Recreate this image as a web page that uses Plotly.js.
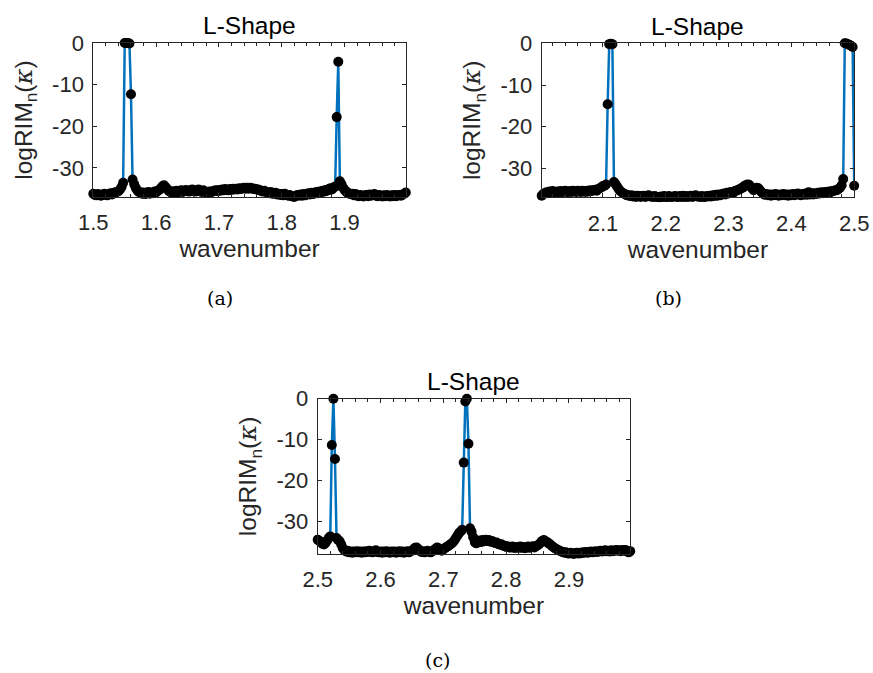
<!DOCTYPE html>
<html><head><meta charset="utf-8">
<script src="https://cdn.plot.ly/plotly-3.0.1.min.js"></script>
<style>html,body{margin:0;padding:0;background:#fff;} #chart{width:873px;height:673px;}</style>
</head><body><div id="chart"></div>
<script>
// wavenumber sampling grid of each panel
const stepK = 0.0025;
const startA = 1.5, startB = 2.0025, startC = 2.5;
const countA = 200, countB = 200, countC = 200;

// logRIM_n(kappa) values
const valuesA = [
-36.2,-36.5,-36.6,-36.3,-36.6,-36.7,-36.4,-36.2,-36.5,-36.6,
-36.3,-36.1,-36.4,-36.0,-35.9,-35.8,-35.6,-35.2,-34.6,-33.6,
0,0,0,-0.1,-12.3,-32.8,-33.9,-34.8,-35.4,-35.8,
-35.9,-36.2,-35.9,-36.3,-36.0,-35.8,-36.2,-35.9,-36.1,-35.7,
-35.9,-35.5,-35.3,-34.9,-34.4,-34.2,-34.6,-35.1,-35.5,-35.8,
-35.6,-36.0,-35.7,-35.5,-35.9,-35.6,-35.4,-35.8,-35.5,-35.3,
-35.6,-35.7,-35.3,-35.2,-35.6,-35.7,-35.3,-35.2,-35.6,-35.8,
-35.4,-35.7,-35.9,-36.0,-35.7,-35.9,-35.6,-35.5,-35.4,-35.6,
-35.3,-35.5,-35.2,-35.4,-35.1,-35.3,-35.4,-35.1,-35.3,-35.0,
-35.2,-35.0,-35.2,-34.9,-35.1,-34.9,-34.8,-35.0,-34.8,-35.0,
-34.8,-34.9,-35.1,-35.0,-35.2,-35.2,-35.4,-35.5,-35.7,-35.5,
-35.8,-35.9,-36.1,-35.8,-36.2,-36.2,-36.0,-36.4,-36.2,-36.5,
-36.3,-36.6,-36.2,-36.5,-36.7,-36.5,-36.8,-36.9,-37.0,-36.7,
-36.5,-36.7,-36.4,-36.7,-36.3,-36.6,-36.3,-36.1,-36.4,-36.0,
-36.3,-36.0,-35.8,-36.1,-35.7,-35.9,-35.5,-35.7,-35.3,-35.5,
-35.1,-34.9,-35.2,-34.7,-34.5,-17.8,-4.5,-33.2,-33.9,-34.7,
-35.3,-35.7,-35.9,-36.2,-36.3,-36.2,-36.6,-36.3,-36.7,-36.8,
-36.5,-36.7,-36.9,-36.6,-36.5,-36.8,-36.4,-36.7,-36.5,-36.3,
-36.7,-36.8,-36.5,-36.7,-36.9,-36.6,-36.8,-36.5,-36.7,-36.9,
-36.6,-36.8,-36.5,-36.8,-36.6,-36.5,-36.7,-36.4,-36.2,-35.9
];
const valuesB = [
-36.6,-36.2,-36.0,-35.8,-36.0,-35.6,-35.8,-35.5,-35.7,-35.9,
-35.6,-35.8,-35.5,-35.8,-35.6,-35.4,-35.7,-35.8,-35.5,-35.7,
-35.4,-35.6,-35.7,-35.4,-35.6,-35.7,-35.4,-35.6,-35.7,-35.4,
-35.6,-35.3,-35.5,-35.3,-35.2,-35.4,-35.0,-34.8,-34.6,-34.3,
-34.2,-33.9,-14.6,-0.1,0,-0.1,-33.3,-33.8,-34.4,-35.0,
-35.5,-35.8,-36.1,-36.2,-36.5,-36.5,-36.7,-36.5,-36.8,-36.6,
-36.9,-36.6,-36.7,-36.9,-36.7,-36.6,-36.9,-36.7,-36.5,-36.8,
-36.8,-36.9,-36.7,-36.9,-36.9,-37.0,-36.8,-36.9,-36.7,-36.9,
-36.9,-36.7,-36.9,-36.9,-36.8,-36.7,-36.9,-36.9,-36.7,-36.9,
-36.6,-36.9,-36.7,-36.9,-36.8,-36.6,-36.9,-36.7,-36.5,-36.8,
-36.8,-36.9,-36.7,-36.9,-36.9,-36.7,-36.8,-36.6,-36.8,-36.5,
-36.7,-36.4,-36.6,-36.3,-36.5,-36.2,-36.1,-36.3,-35.9,-36.1,
-35.8,-35.7,-35.9,-35.5,-35.4,-35.2,-35.1,-34.8,-34.7,-34.3,
-34.1,-33.9,-34.0,-34.4,-34.9,-35.3,-35.0,-34.7,-34.8,-35.3,
-35.8,-36.1,-36.4,-36.2,-36.5,-36.3,-36.6,-36.3,-36.5,-36.2,
-36.5,-36.6,-36.3,-36.5,-36.2,-36.5,-36.3,-36.6,-36.3,-36.5,
-36.2,-36.5,-36.3,-36.1,-36.4,-36.5,-36.2,-36.4,-36.1,-36.4,
-35.8,-36.3,-36.0,-36.3,-36.0,-36.2,-35.9,-36.1,-35.8,-36.0,
-35.8,-35.7,-35.9,-35.6,-35.8,-35.5,-35.5,-35.3,-35.3,-35.0,
-34.7,-34.1,-32.6,0.1,0.05,-0.1,-0.3,-0.5,-0.8,-34.2
];
const valuesC = [
-34.4,-34.7,-35.0,-35.4,-35.6,-35.2,-34.6,-34.0,-33.6,-11.3,
0,-14.7,-34.0,-34.5,-34.8,-35.6,-36.5,-37.0,-37.3,-37.1,
-37.5,-37.3,-37.6,-37.3,-37.5,-37.2,-37.5,-37.3,-37.6,-37.3,
-37.5,-37.2,-37.4,-37.1,-37.4,-37.5,-37.2,-37.0,-37.4,-37.5,
-37.3,-37.6,-37.3,-37.5,-37.2,-37.5,-37.6,-37.3,-37.5,-37.3,
-37.6,-37.4,-37.2,-37.5,-37.3,-37.6,-37.4,-37.2,-37.5,-37.3,
-37.1,-36.8,-36.4,-36.3,-36.7,-37.1,-37.4,-37.2,-37.5,-37.3,
-37.1,-37.4,-37.5,-37.2,-37.0,-36.6,-36.3,-36.5,-36.9,-37.1,
-36.8,-36.5,-36.2,-36.0,-35.7,-35.4,-35.1,-34.6,-34.0,-33.4,
-32.8,-32.4,-32.0,-15.6,-0.7,0,-11.0,-31.6,-32.5,-33.8,
-35.0,-35.3,-34.8,-34.6,-35.0,-34.5,-34.8,-34.4,-34.7,-34.5,
-34.9,-34.7,-35.1,-35.2,-35.1,-35.5,-35.6,-35.5,-35.9,-35.9,
-36.2,-36.0,-36.3,-36.3,-36.1,-36.4,-36.4,-36.2,-36.4,-36.1,
-36.4,-36.2,-36.5,-36.3,-36.1,-36.4,-36.2,-36.0,-36.3,-36.0,
-35.8,-35.5,-35.1,-34.7,-34.5,-34.8,-35.0,-35.3,-35.5,-35.9,
-36.2,-36.5,-36.7,-36.9,-37.1,-37.3,-37.4,-37.6,-37.5,-37.7,
-37.8,-37.6,-37.7,-37.9,-37.7,-37.6,-37.8,-37.6,-37.7,-37.5,
-37.6,-37.4,-37.6,-37.5,-37.3,-37.5,-37.4,-37.2,-37.4,-37.3,
-37.1,-37.3,-37.2,-37.0,-37.2,-37.1,-37.3,-37.0,-37.2,-37.1,
-36.9,-37.1,-37.0,-37.2,-36.9,-37.1,-36.9,-37.3,-37.5,-37.2
];

const xTickValsA = [1.5,1.6,1.7,1.8,1.9], xTickTextA = ['1.5','1.6','1.7','1.8','1.9'];
const xTickValsB = [2.1,2.2,2.3,2.4,2.5], xTickTextB = ['2.1','2.2','2.3','2.4','2.5'];
const xTickValsC = [2.5,2.6,2.7,2.8,2.9], xTickTextC = ['2.5','2.6','2.7','2.8','2.9'];
const yTickVals = [-30,-20,-10,0], yTickText = ['-30','-20','-10','0'];
const panelTitle = 'L-Shape';
const xLabel = 'wavenumber';
const yLabel = 'logRIM<sub>n</sub>(<i><span style="font-family:\'DejaVu Serif\'">κ</span></i>)';
const captions = ['(a)','(b)','(c)'];

function grid(start, n){ const g=[]; for(let i=0;i<n;i++){ g.push(Math.round((start+i*stepK)*10000)/10000); } return g; }

const W=873, H=673;
const px = v => v/W, py = v => 1 - v/H;

const sans = 'Liberation Sans, Arial, Helvetica, sans-serif';
const ink = '#262626';
function trace(x,y,xa,ya){
  return {x:x,y:y,xaxis:xa,yaxis:ya,type:'scatter',mode:'lines+markers',cliponaxis:false,
    line:{color:'#0072BD',width:2.5},marker:{color:'#000000',size:10},hoverinfo:'skip',showlegend:false};
}
function xaxis(l,r,ticks,texts,anchor){
  return {domain:[px(l),px(r)],anchor:anchor,showline:true,linecolor:ink,linewidth:1,mirror:'ticks',
    ticks:'inside',ticklen:4,tickcolor:ink,tickwidth:1,showgrid:false,zeroline:false,
    tickmode:'array',tickvals:ticks,ticktext:texts,tickfont:{family:sans,size:22,color:ink},
    ticklabelstandoff:6,
    minor:{dtick:0.02,tick0:0,ticks:'inside',ticklen:3,tickcolor:ink,tickwidth:1,showgrid:false},
    title:{text:xLabel,font:{family:sans,size:24.5,color:ink},standoff:4},automargin:false};
}
function yaxis(t,b,anchor){
  return {domain:[py(b),py(t)],anchor:anchor,showline:true,linecolor:ink,linewidth:1,mirror:'ticks',
    ticks:'inside',ticklen:4,tickcolor:ink,tickwidth:1,showgrid:false,zeroline:false,
    tickmode:'array',tickvals:yTickVals,ticktext:yTickText,tickfont:{family:sans,size:22,color:ink},
    ticklabelstandoff:4,
    title:{text:yLabel,font:{family:sans,size:24.5,color:ink},standoff:12},automargin:false};
}

const xA = grid(startA,countA), xB = grid(startB,countB), xC = grid(startC,countC);
const data = [trace(xA,valuesA,'x','y'), trace(xB,valuesB,'x2','y2'), trace(xC,valuesC,'x3','y3')];

const boxes = {a:[93.3,405.8,43,197], b:[541.7,854.2,43.3,197.3], c:[317.7,630.2,398.7,554]};
const layout = {width:W,height:H,margin:{l:0,r:0,t:0,b:0},paper_bgcolor:'#fff',plot_bgcolor:'#fff',showlegend:false,
  xaxis: Object.assign(xaxis(boxes.a[0],boxes.a[1],xTickValsA,xTickTextA,'y'),{range:[xA[0],xA[xA.length-1]]}),
  yaxis: Object.assign(yaxis(boxes.a[2],boxes.a[3],'x'),{range:[Math.min(...valuesA),Math.max(...valuesA)]}),
  xaxis2: Object.assign(xaxis(boxes.b[0],boxes.b[1],xTickValsB,xTickTextB,'y2'),{range:[xB[0],xB[xB.length-1]]}),
  yaxis2: Object.assign(yaxis(boxes.b[2],boxes.b[3],'x2'),{range:[Math.min(...valuesB),Math.max(...valuesB)]}),
  xaxis3: Object.assign(xaxis(boxes.c[0],boxes.c[1],xTickValsC,xTickTextC,'y3'),{range:[xC[0],xC[xC.length-1]]}),
  yaxis3: Object.assign(yaxis(boxes.c[2],boxes.c[3],'x3'),{range:[Math.min(...valuesC),Math.max(...valuesC)]}),
  annotations:[]
};
for (const k of ['a','b','c']){
  const bx = boxes[k];
  layout.annotations.push({xref:'paper',yref:'paper',x:px((bx[0]+bx[1])/2),y:py(bx[2]-17),xanchor:'center',yanchor:'middle',
    text:panelTitle,showarrow:false,font:{family:sans,size:24.5,color:'#000'}});
}
const capPos = [[220,298],[668,298],[437,660]];
capPos.forEach((p,i)=>layout.annotations.push({xref:'paper',yref:'paper',x:px(p[0]),y:py(p[1]),xanchor:'center',yanchor:'middle',
  text:captions[i],showarrow:false,font:{family:'DejaVu Serif, Liberation Serif, serif',size:19,color:'#000'}}));

Plotly.newPlot('chart',data,layout,{displayModeBar:false,staticPlot:true});
</script></body></html>
